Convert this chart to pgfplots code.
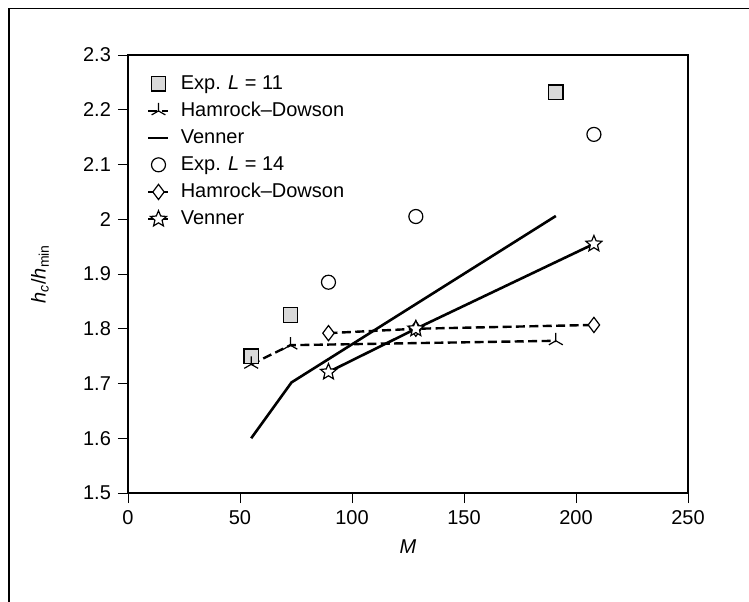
\documentclass[border=0pt]{standalone}
\usepackage{pgfplots}
\pgfplotsset{compat=1.18}
\usetikzlibrary{plotmarks}
\usepackage{fontspec}
\setmainfont{Liberation Sans}

\pgfdeclareplotmark{ostar}{%
  \pgfpathmoveto{\pgfpointpolar{90}{\pgfplotmarksize}}%
  \pgfpathlineto{\pgfpointpolar{126}{0.45\pgfplotmarksize}}%
  \pgfpathlineto{\pgfpointpolar{162}{\pgfplotmarksize}}%
  \pgfpathlineto{\pgfpointpolar{198}{0.45\pgfplotmarksize}}%
  \pgfpathlineto{\pgfpointpolar{234}{\pgfplotmarksize}}%
  \pgfpathlineto{\pgfpointpolar{270}{0.45\pgfplotmarksize}}%
  \pgfpathlineto{\pgfpointpolar{306}{\pgfplotmarksize}}%
  \pgfpathlineto{\pgfpointpolar{342}{0.45\pgfplotmarksize}}%
  \pgfpathlineto{\pgfpointpolar{18}{\pgfplotmarksize}}%
  \pgfpathlineto{\pgfpointpolar{54}{0.45\pgfplotmarksize}}%
  \pgfpathclose
  \pgfusepathqfillstroke
}

\begin{document}
\begin{tikzpicture}
\fontsize{10}{12}\selectfont
\begin{axis}[
  scale only axis, width=280pt, height=219pt,
  xmin=0, xmax=250, ymin=1.5, ymax=2.3,
  xtick={0,50,100,150,200,250},
  xticklabels={0,50,100,150,200,250},
  ytick={1.5,1.6,1.7,1.8,1.9,2.0,2.1,2.2,2.3},
  yticklabels={1.5,1.6,1.7,1.8,1.9,2,2.1,2.2,2.3},
  /pgf/number format/assume math mode=true,
  tick align=outside, major tick length=5pt,
  xtick pos=left, ytick pos=left,
  tick style={black, line width=0.5pt},
  axis line style={line width=1pt},
  ticklabel style={font=\fontsize{10}{12}\selectfont},
  every axis x label/.style={at={(axis description cs:0.5,-0.123)}, anchor=center},
  every axis y label/.style={at={(axis description cs:-0.157,0.5)}, anchor=center, rotate=90},
  xlabel={\textit{M}},
  ylabel={\textit{h}\textsubscript{\textit{c}}/\textit{h}\textsubscript{min}},
  label style={font=\fontsize{10}{12}\selectfont},
  legend cell align=left,
  legend style={draw=none, fill=none, at={(axis description cs:0.03,0.968)}, anchor=north west,
    row sep=1.0pt, font=\fontsize{10}{12}\selectfont, inner sep=1pt,
    nodes={inner xsep=5.5pt}},
  legend image code/.code={\draw[mark repeat=2, mark phase=2, #1] plot coordinates {(0pt,0pt) (5pt,0pt) (10pt,0pt)};},
]
% Exp L = 11
\addplot[only marks, mark=square*, mark size=3.6pt, mark options={fill=gray!30, draw=black, line width=0.6pt, solid}]
  coordinates {(55,1.750) (72.5,1.825) (191,2.232)};
\addlegendentry{Exp. \textit{L} = 11}
% Hamrock-Dowson L = 11
\addplot[black, line width=1.2pt, dash pattern=on 4.5pt off 2.2pt, mark=Mercedes star, mark size=4pt, mark options={solid, line width=0.6pt}]
  coordinates {(55,1.735) (72.5,1.770) (191,1.778)};
\addlegendentry{Hamrock--Dowson}
% Venner L = 11
\addplot[black, line width=1.3pt, no marks]
  coordinates {(55,1.600) (73,1.702) (191,2.006)};
\addlegendentry{Venner}
% Exp L = 14
\addplot[only marks, mark=o, mark size=3.5pt, mark options={fill=white, draw=black, line width=0.6pt}]
  coordinates {(89.5,1.885) (128.5,2.005) (208,2.155)};
\addlegendentry{Exp. \textit{L} = 14}
% Hamrock-Dowson L = 14
\addplot[black, line width=1.2pt, dash pattern=on 4.5pt off 2.2pt, mark=diamond*, mark size=3.8pt, mark options={solid, fill=white, line width=0.6pt}]
  coordinates {(89.5,1.792) (128.5,1.800) (208,1.807)};
\addlegendentry{Hamrock--Dowson}
% Venner L = 14
\addplot[black, line width=1.3pt, mark=ostar, mark size=4.2pt, mark options={solid, fill=white, line width=0.6pt}]
  coordinates {(89.5,1.721) (128.5,1.800) (208,1.955)};
\addlegendentry{Venner}
\end{axis}
\pgfresetboundingbox
\useasboundingbox (-64pt,-54pt) rectangle (310.5pt,246.5pt);
\draw[line width=0.8pt] (-59.5pt,-70pt) -- (-59.5pt,242.3pt) -- (330pt,242.3pt);
\end{tikzpicture}
\end{document}
